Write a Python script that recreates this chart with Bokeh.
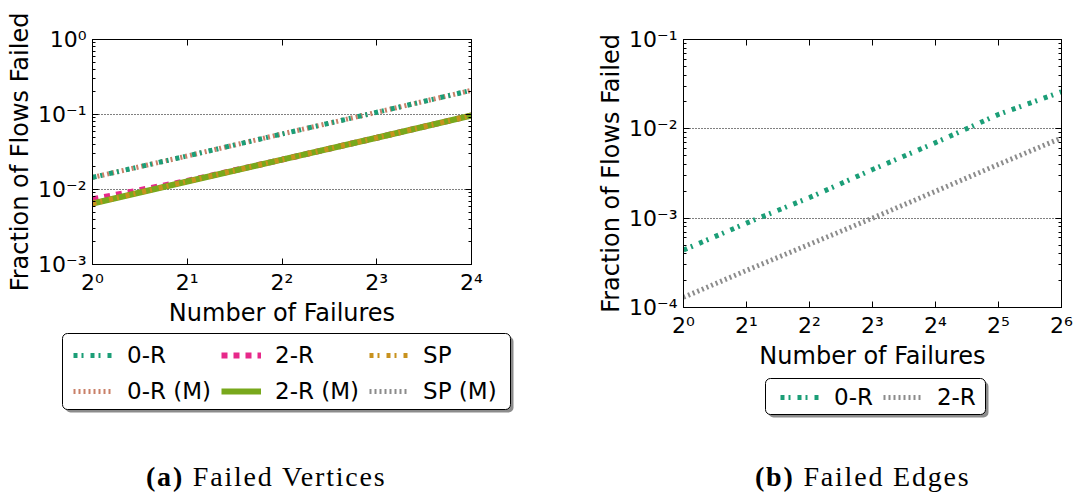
from bokeh.plotting import figure
from bokeh.models import FixedTicker, LogAxis, Legend, LegendItem, Div, BoxAnnotation
from bokeh.layouts import row, column
from bokeh.embed import file_html
from bokeh.resources import INLINE

# ---------------- data ----------------
vert_x = [1, 2, 4, 8, 16]
vert_0r = [0.0145, 0.028, 0.055, 0.107, 0.21]
vert_0r_m = [0.0145, 0.028, 0.055, 0.107, 0.21]
vert_2r = [0.0074, 0.0130, 0.025, 0.049, 0.097]
vert_2r_m = [0.0065, 0.0128, 0.025, 0.049, 0.097]
vert_sp = [0.0065, 0.0128, 0.025, 0.049, 0.097]
vert_sp_m = [0.0065, 0.0128, 0.025, 0.049, 0.097]

edge_x = [1, 2, 4, 8, 16, 32, 64]
edge_0r = [0.00044, 0.00088, 0.0017, 0.0035, 0.0070, 0.0145, 0.026]
edge_2r = [0.00013, 0.00026, 0.00051, 0.0010, 0.0020, 0.0040, 0.0079]

vert_x_exps = [0, 1, 2, 3, 4]
edge_x_exps = [0, 1, 2, 3, 4, 5, 6]
vert_y_exps = [-3, -2, -1, 0]
edge_y_exps = [-4, -3, -2, -1]

vert_labels = ["0-R", "0-R (M)", "2-R", "2-R (M)", "SP", "SP (M)"]
edge_labels = ["0-R", "2-R"]

caption_a = ("(a)", "Failed Vertices")
caption_b = ("(b)", "Failed Edges")

# ---------------- styles ----------------
TEAL = "#1b9e77"
SALMON = "#c98068"
PINK = "#e7298a"
GREEN = "#78a81c"
GOLD = "#c8921e"
GREY = "#8c8c8c"
DASHDOT = "4 4 2 7"
TICKS = "2 3"

STY_0R = dict(line_color=TEAL, line_width=5, line_dash=DASHDOT)
STY_0RM = dict(line_color=SALMON, line_width=5, line_dash=TICKS)
STY_2R = dict(line_color=PINK, line_width=6, line_dash="6 6")
STY_2RM = dict(line_color=GREEN, line_width=6)
STY_SP = dict(line_color=GOLD, line_width=5, line_dash=DASHDOT)
STY_SPM = dict(line_color=GREY, line_width=5, line_dash=TICKS)
STY_E2R = dict(line_color=GREY, line_width=5, line_dash=TICKS)

FONT = "DejaVu Sans"
SUP = {"0": "\u2070", "1": "\u00b9", "2": "\u00b2", "3": "\u00b3", "4": "\u2074",
       "5": "\u2075", "6": "\u2076", "7": "\u2077", "8": "\u2078", "9": "\u2079", "-": "\u207b"}


def sup(n):
    return "".join(SUP[c] for c in str(n))


def style_axis(ax):
    ax.major_tick_in = 6
    ax.major_tick_out = 0
    ax.minor_tick_in = 3
    ax.minor_tick_out = 0
    ax.axis_line_color = "black"
    ax.major_tick_line_color = "black"
    ax.minor_tick_line_color = "black"
    ax.major_label_text_font = FONT
    ax.major_label_text_font_size = "22px"
    ax.major_label_text_color = "black"
    ax.axis_label_text_font = FONT
    ax.axis_label_text_font_size = "24px"
    ax.axis_label_text_font_style = "normal"
    ax.axis_label_text_color = "black"


def make_fig(width, height, bl, br, bt, bb, x_exps, y_exps):
    xt = [2 ** e for e in x_exps]
    yt = [10.0 ** e for e in y_exps]
    yminor = [m * 10.0 ** e for e in y_exps[:-1] for m in range(2, 10)]
    p = figure(width=width, height=height, x_axis_type="log", y_axis_type="log",
               x_range=(xt[0], xt[-1]), y_range=(yt[0], yt[-1]),
               output_backend="svg", toolbar_location=None,
               min_border_left=bl, min_border_right=br, min_border_top=bt, min_border_bottom=bb)
    p.frame_align = False
    p.background_fill_color = "white"
    p.border_fill_color = "white"
    p.outline_line_color = "black"
    p.outline_line_width = 1
    p.outline_line_alpha = 1

    p.xaxis.ticker = FixedTicker(ticks=xt, minor_ticks=[])
    p.yaxis.ticker = FixedTicker(ticks=yt, minor_ticks=yminor)
    p.xaxis.major_label_overrides = {t: "2" + sup(e) for t, e in zip(xt, x_exps)}
    p.yaxis.major_label_overrides = {t: "10" + sup(e) for t, e in zip(yt, y_exps)}
    style_axis(p.xaxis[0])
    style_axis(p.yaxis[0])
    p.xaxis.major_label_standoff = 5
    p.yaxis.major_label_standoff = 6
    p.xaxis.axis_label = "Number of Failures"
    p.yaxis.axis_label = "Fraction of Flows Failed"
    p.xaxis.axis_label_standoff = 1
    p.yaxis.axis_label_standoff = 1

    top = LogAxis(ticker=FixedTicker(ticks=xt, minor_ticks=[]),
                  major_label_overrides={t: "" for t in xt})
    right = LogAxis(ticker=FixedTicker(ticks=yt, minor_ticks=yminor),
                    major_label_overrides={t: "" for t in yt})
    style_axis(top)
    style_axis(right)
    top.major_label_standoff = 0
    right.major_label_standoff = 0
    p.add_layout(top, "above")
    p.add_layout(right, "right")

    p.xgrid.visible = False
    p.ygrid[0].ticker = FixedTicker(ticks=yt, minor_ticks=[])
    p.ygrid.grid_line_color = "black"
    p.ygrid.grid_line_width = 1
    p.ygrid.grid_line_dash = "1 2"
    p.ygrid.grid_line_alpha = 1
    return p


def legend_fig(width, height, box, labels, styles, nrows, loc):
    """A frame-only figure whose frame is the whole area; the legend sits inside it."""
    lf = figure(width=width, height=height, x_range=(0, width), y_range=(0, height),
                output_backend="svg", toolbar_location=None,
                x_axis_location=None, y_axis_location=None, min_border=0)
    lf.frame_align = False
    lf.outline_line_color = None
    lf.grid.visible = False
    lf.background_fill_color = "white"
    lf.border_fill_color = "white"
    l, r, b, t = box
    lf.add_layout(BoxAnnotation(left=l + 3, right=r + 3, bottom=b - 3, top=t - 3,
                                fill_color="#7f7f7f", fill_alpha=0.9, line_color=None,
                                border_radius=5))
    lf.add_layout(BoxAnnotation(left=l, right=r, bottom=b, top=t,
                                fill_color="white", fill_alpha=1, line_color="black",
                                line_alpha=1, line_width=1, border_radius=5))
    items = []
    for lab, sty in zip(labels, styles):
        # one hidden (NaN) point so the legend has a style to draw its sample with
        rr = lf.line([float("nan")], [float("nan")], **sty)
        items.append(LegendItem(label=lab, renderers=[rr]))
    lg = Legend(items=items, location=loc, orientation="vertical", nrows=nrows)
    lg.label_text_font = FONT
    lg.label_text_font_size = "23px"
    lg.label_text_color = "black"
    lg.glyph_width = 40
    lg.glyph_height = 20
    lg.label_standoff = 14
    lg.spacing = 10
    lg.padding = 0
    lg.margin = 0
    lg.border_line_color = None
    lg.background_fill_alpha = 0
    lf.add_layout(lg)
    return lf


def caption(parts, width, left_pad):
    bold, rest = parts
    html = "<span style='font-weight:bold'>%s</span>&nbsp;%s" % (bold, rest)
    return Div(text=html, width=width, height=80, margin=0,
               styles={"font-family": "'Liberation Serif', serif", "font-size": "28px",
                       "letter-spacing": "1.8px", "color": "black",
                       "padding-left": "%dpx" % left_pad, "padding-top": "42px",
                       "box-sizing": "border-box", "line-height": "30px"})


# ---------------- (a) failed vertices ----------------
p1 = make_fig(537, 330, 92, 66, 39, 66, vert_x_exps, vert_y_exps)
p1.line(vert_x, vert_sp_m, **STY_SPM)
p1.line(vert_x, vert_2r, **STY_2R)
p1.line(vert_x, vert_2r_m, **STY_2RM)
p1.line(vert_x, vert_sp, **STY_SP)
p1.line(vert_x, vert_0r_m, **STY_0RM)
p1.line(vert_x, vert_0r, **STY_0R)

leg1 = legend_fig(537, 90, (62, 510, 11, 87), vert_labels,
                  [STY_0R, STY_0RM, STY_2R, STY_2RM, STY_SP, STY_SPM], 2, (73, 16))

# ---------------- (b) failed edges ----------------
p2 = make_fig(538, 373, 146, 14, 39, 66, edge_x_exps, edge_y_exps)
p2.line(edge_x, edge_2r, **STY_E2R)
p2.line(edge_x, edge_0r, **STY_0R)

leg2 = legend_fig(538, 47, (228, 448, 6, 42), edge_labels, [STY_0R, STY_E2R], 1, (243, 10))

cap_a = caption(caption_a, 537, 146)
cap_b = caption(caption_b, 538, 755 - 537)

left = column(p1, leg1, cap_a)
right = column(p2, leg2, cap_b)
layout = row(left, right)
open("out.html", "w").write(file_html(layout, INLINE))
